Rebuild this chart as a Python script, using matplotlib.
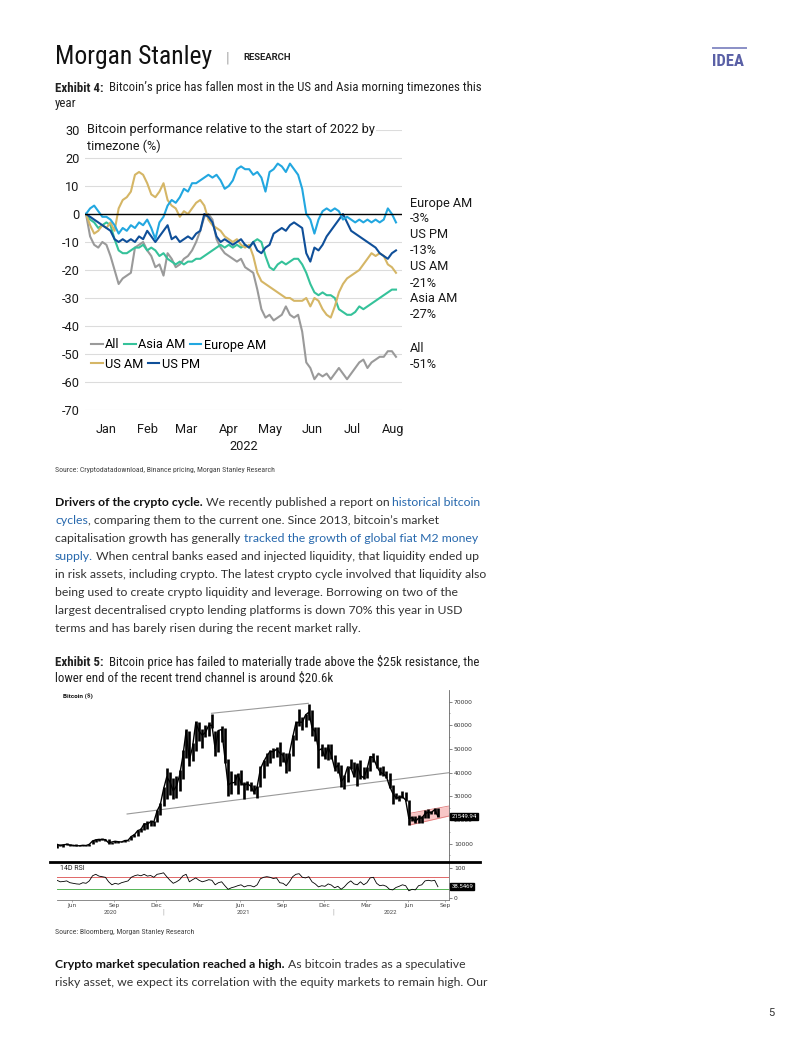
import matplotlib.pyplot as plt
import matplotlib.transforms as mtransforms
from matplotlib import font_manager
from matplotlib.lines import Line2D
import pandas as pd

W, H = 802, 1037
plt.rcParams['axes.unicode_minus'] = False

installed = {f.name for f in font_manager.fontManager.ttflist}
NARROW = next((n for n in ['Roboto Condensed', 'Liberation Sans Narrow', 'Archivo Narrow',
                           'PT Sans Narrow'] if n in installed), 'Roboto')
BODY = 'Lato'
CHART = 'Roboto'
CS = 9.2  # chart text size

# ---- Exhibit 4: performance by timezone (% vs start of 2022), every 3 days ----
tz_start = '2022-01-01'
tz_all = [0, -8, -11, -12, -10, -11, -15, -20, -25, -23,
          -22, -21, -12, -11, -10, -13, -15, -19, -18, -22,
          -14, -16, -19, -18, -16, -15, -13, -10, -6, -1,
          0, -2, -9, -12, -14, -15, -16, -17, -16, -19,
          -20, -21, -27, -34, -37, -36, -38, -37, -36, -33,
          -36, -37, -36, -42, -53, -55, -59, -57, -58, -57,
          -59, -57, -55, -57, -59, -57, -55, -53, -52, -55,
          -53, -52, -51, -51, -49, -49, -51]
tz_asia = [0, -2, -3, -5, -4, -3, -4, -9, -13, -14,
           -14, -13, -12, -12, -11, -13, -12, -13, -15, -14,
           -16, -17, -18, -17, -18, -17, -17, -16, -16, -15,
           -14, -13, -12, -11, -12, -11, -12, -11, -12, -11,
           -12, -10, -9, -10, -15, -19, -20, -18, -17, -18,
           -17, -16, -16, -18, -21, -25, -28, -29, -28, -29,
           -29, -30, -34, -35, -36, -36, -35, -33, -34, -33,
           -32, -31, -30, -29, -28, -27, -27]
tz_europe = [0, 2, 3, 1, -1, -1, -2, -4, -7, -5,
             -6, -4, -5, -3, -4, -2, -5, -9, -3, -1,
             3, 5, 4, 6, 9, 8, 11, 11, 12, 13,
             14, 13, 14, 12, 9, 10, 12, 16, 17, 16,
             16, 14, 15, 13, 8, 15, 16, 18, 17, 15,
             18, 16, 14, 9, 0, -2, -7, -2, 1, 2,
             1, 2, 1, -2, -1, -2, -3, -2, -3, -2,
             -3, -2, -3, -2, 2, 0, -3]
tz_usam = [0, -4, -7, -6, -4, -5, -3, -6, 2, 5,
           6, 8, 14, 15, 14, 11, 7, 6, 8, 11,
           5, 3, 2, -1, 1, 0, 2, 4, 5, 3,
           -2, -4, -5, -6, -8, -9, -10, -9, -11, -12,
           -11, -15, -21, -24, -25, -26, -27, -28, -29, -30,
           -30, -31, -31, -31, -30, -33, -30, -31, -34, -36,
           -37, -33, -28, -25, -23, -22, -21, -20, -18, -16,
           -14, -15, -14, -15, -18, -19, -21]
tz_uspm = [0, -1, -2, -3, -4, -5, -6, -9, -10, -9,
           -10, -9, -10, -8, -9, -6, -8, -10, -8, -6,
           -4, -9, -8, -10, -9, -8, -9, -7, -6, 0,
           -1, -3, -8, -10, -9, -10, -11, -10, -9, -11,
           -12, -10, -13, -14, -12, -11, -7, -6, -5, -6,
           -4, -3, -4, -5, -14, -17, -12, -13, -11, -8,
           -6, -4, -2, 0, -3, -6, -7, -8, -9, -10,
           -11, -12, -14, -15, -16, -14, -13]
tz_names = ['All', 'Asia AM', 'Europe AM', 'US AM', 'US PM']
tz_latest = ['-51%', '-27%', '-3%', '-21%', '-13%']
month_names = ['Jan', 'Feb', 'Mar', 'Apr', 'May', 'Jun', 'Jul', 'Aug']
month_mid = ['2022-01-16', '2022-02-15', '2022-03-16', '2022-04-16',
             '2022-05-16', '2022-06-16', '2022-07-16', '2022-08-15']

# ---- Exhibit 5: bitcoin weekly high / low / close (USD) and 14D RSI ----
btc_start = '2020-05-14'
btc_close = [9700, 9200, 9500, 9700, 9400, 9300, 9100, 9100, 9300, 9200,
             9700, 11100, 11600, 11800, 11700, 11700, 10300, 10700, 11000, 10800,
             10700, 11300, 11400, 13000, 13800, 15500, 16000, 18400, 18200, 19300,
             19200, 23800, 26500, 33000,
             38200, 36000, 32300, 34300, 39000, 47100, 57500, 45200, 51000, 61200,
             57500, 55800, 57000, 60000, 60000, 50000, 57800, 58200, 46400, 34700,
             35700, 35800, 39100, 35600, 34700, 35300, 34300, 31800, 34000, 41500,
             44600, 47000, 49000, 48800, 49900, 48300, 47300, 43200, 48200, 54900,
             60900, 61300, 61300, 64400, 65500, 59000, 57300, 49400, 50100, 46700,
             50800, 47300,
             41800, 43100, 36300, 37900, 42400, 42200, 38400, 43200, 38800, 37800,
             41300, 46800, 46400, 42800, 40400, 39500, 38500, 34300, 31300, 29400,
             29400, 29900, 28400, 20600, 21000, 19300, 20800, 20800, 22600, 23300,
             23200, 24400, 21550]
btc_high = [9900, 9800, 9700, 10400, 9950, 9600, 9800, 9300, 9450, 9350,
            9900, 11400, 12100, 12000, 12450, 11800, 12100, 10700, 11100, 11200,
            10950, 11500, 11700, 13200, 14000, 15900, 16500, 18800, 19400, 19900,
            19400, 24200, 27000, 34000,
            41900, 40100, 37900, 38500, 40900, 49700, 58300, 57500, 52600, 61800,
            61300, 58400, 60100, 61200, 64900, 57500, 57900, 59500, 59000, 45800,
            40800, 39500, 40000, 41300, 36000, 36600, 35900, 34600, 34500, 42600,
            45300, 48100, 49400, 50500, 51000, 52900, 48800, 48400, 48400, 56000,
            62000, 67000, 63700, 64600, 69000, 66300, 59300, 59100, 51900, 50700,
            51900, 52000,
            47500, 44400, 43400, 38900, 42500, 45800, 44700, 44200, 45400, 42500,
            42300, 46900, 48200, 47500, 42400, 42900, 40800, 40000, 34600, 31400,
            30600, 32300, 31700, 28400, 21800, 21500, 22300, 21600, 24200, 24600,
            23600, 24900, 25200]
btc_low = [8200, 8800, 8700, 9300, 9200, 9200, 8900, 8900, 9050, 9050,
           9150, 9700, 10600, 11100, 11500, 11100, 9900, 9900, 10200, 10200,
           10500, 10500, 11200, 11400, 12900, 13200, 14800, 15800, 16300, 17600,
           17600, 19000, 22200, 26000,
           29000, 30400, 28900, 29200, 32300, 37400, 46200, 43000, 44900, 49300,
           53500, 50400, 55000, 55500, 59000, 47000, 48800, 53000, 43900, 30000,
           31100, 34800, 31000, 34900, 28800, 32700, 32200, 31100, 29300, 34000,
           37600, 42800, 43900, 46300, 46500, 43000, 44700, 40000, 40800, 47100,
           53900, 59500, 58000, 59400, 62300, 55600, 53300, 42000, 46900, 45600,
           45500, 45700,
           40600, 39700, 34000, 32900, 36200, 41600, 38000, 34300, 37200, 37200,
           37600, 40500, 44300, 42100, 39200, 38600, 37600, 33700, 26700, 28700,
           28000, 29300, 28200, 17700, 19700, 18900, 18800, 18900, 20800, 20700,
           22400, 22700, 21400]
btc_rsi = [60, 55, 56, 58, 52, 50, 48, 47, 52, 50,
           58, 75, 80, 74, 72, 70, 55, 45, 50, 47,
           52, 55, 58, 70, 75, 78, 75, 80, 74, 76,
           70, 80, 82, 85,
           72, 60, 50, 55, 62, 75, 80, 55, 62, 68,
           60, 55, 58, 62, 60, 45, 52, 55, 42, 30,
           35, 38, 42, 45, 38, 42, 42, 38, 45, 65,
           70, 72, 70, 66, 68, 52, 50, 42, 55, 72,
           80, 82, 70, 68, 72, 55, 48, 38, 42, 40,
           48, 44,
           35, 40, 30, 38, 50, 58, 48, 45, 55, 45,
           52, 68, 70, 50, 42, 44, 40, 30, 28, 36,
           40, 45, 42, 25, 30, 28, 42, 45, 58, 60,
           58, 60, 38.5]
btc_last = 21549.94
rsi_last = 38.5469
support_x = ['2020-10-13', '2022-09-11']
support_y = [22520, 39970]
resist_x = ['2021-04-14', '2021-11-10']
resist_y = [65065, 69290]
channel_x = ['2022-06-18', '2022-09-11']
channel_low = [17870, 21675]
channel_high = [22815, 25900]
ex5_ticks = ['2020-06-15', '2020-09-15', '2020-12-15', '2021-03-15', '2021-06-15',
             '2021-09-15', '2021-12-15', '2022-03-15', '2022-06-15', '2022-09-03']
ex5_tick_labels = ['Jun', 'Sep', 'Dec', 'Mar', 'Jun', 'Sep', 'Dec', 'Mar', 'Jun', 'Sep']

fig = plt.figure(figsize=(W / 100, H / 100), dpi=100)
renderer = fig.canvas.get_renderer()


def fx(x):
    return x / W


def fy(y):
    return 1 - y / H


def put(x, y, s, **kw):
    kw.setdefault('va', 'center')
    return fig.text(fx(x), fy(y), s, parse_math=False, **kw)


def text_width(s, **kw):
    t = fig.text(0, 0, s, parse_math=False, **kw)
    w = t.get_window_extent(renderer).width
    t.remove()
    return w


def space_width(size, family):
    return (text_width('n n', fontsize=size, family=family)
            - text_width('nn', fontsize=size, family=family))


def runs_width(runs, size, family):
    gap = space_width(size, family)
    total = 0
    for s, weight, _ in runs:
        n = len(s) - len(s.lstrip(' '))
        total += gap * n + text_width(s.lstrip(' '), fontsize=size, family=family,
                                      fontweight=weight)
    return total


def fit(runs, width, family):
    """Font size at which the runs span the given pixel width."""
    return 10 * width / runs_width(runs, 10, family)


def rich_line(x, y, runs, size, family):
    """Draw runs of differently styled text one after the other on a line."""
    gap = space_width(size, family)
    for s, weight, color in runs:
        n = len(s) - len(s.lstrip(' '))
        x += gap * n
        t = put(x, y, s.lstrip(' '), fontsize=size, fontweight=weight,
                color=color, family=family)
        x += t.get_window_extent(renderer).width


DARK = '#222222'
TXT = '#333333'
LINK = '#2768ad'

# ---- page header ----
ms_size = fit([('Morgan Stanley', 'normal', '')], 157, NARROW)
put(55, 57, 'Morgan Stanley', fontsize=ms_size, family=NARROW, color='#111111')
put(228, 58, '|', fontsize=11, family=CHART, color='#aaaaaa', ha='center')
put(243, 58, 'RESEARCH', fontsize=6.8, family=CHART, fontweight='bold', color='#222222')
put(712, 61, 'IDEA', fontsize=12, family=NARROW, fontweight='bold', color='#5a60a6')
fig.add_artist(Line2D([fx(713), fx(746)], [fy(48), fy(48)], color='#8a8fc6', lw=1.4,
                      transform=fig.transFigure))

cap4 = [('Exhibit 4:', 'bold', DARK),
        ('  Bitcoin’s price has fallen most in the US and Asia morning timezones this',
         'normal', DARK)]
cap_size = fit(cap4, 423, NARROW)
rich_line(55, 88, cap4, cap_size, NARROW)
put(55, 103, 'year', fontsize=cap_size, family=NARROW, color=DARK)

# ---- Exhibit 4 chart ----
ax1 = fig.add_axes([fx(85), fy(410), (402 - 85) / W, (410 - 130) / H])
days = pd.date_range(tz_start, periods=len(tz_all), freq='3D')
colors = {'All': '#9a9a9a', 'Asia AM': '#35c29a', 'Europe AM': '#22a7e0',
          'US AM': '#d5b666', 'US PM': '#0f4f99'}
values = {'All': tz_all, 'Asia AM': tz_asia, 'Europe AM': tz_europe,
          'US AM': tz_usam, 'US PM': tz_uspm}
handles = {}
for name in ['All', 'Asia AM', 'US AM', 'US PM', 'Europe AM']:
    handles[name], = ax1.plot(days, values[name], color=colors[name], lw=1.5, label=name)
ax1.axhline(0, color='black', lw=1, zorder=5)
ax1.set_ylim(-70, 30)
ax1.set_yticks(range(-70, 31, 10))
ax1.set_xlim(pd.Timestamp('2021-12-31 06:00'), pd.Timestamp('2022-08-21 10:00'))
ax1.set_xticks(pd.to_datetime(month_mid))
ax1.set_xticklabels(month_names)
ax1.grid(axis='y', color='#dcdcdc', lw=0.8)
ax1.set_axisbelow(True)
for s in ax1.spines.values():
    s.set_visible(False)
ax1.tick_params(axis='y', length=0, labelsize=CS, labelcolor='#1a1a1a', pad=4)
ax1.tick_params(axis='x', length=0, labelsize=CS, labelcolor='#1a1a1a', pad=9)
for lab in ax1.get_xticklabels() + ax1.get_yticklabels():
    lab.set_family(CHART)

for y, s in [(130, 'Bitcoin performance relative to the start of 2022 by'),
             (146, 'timezone (%)')]:
    put(87, y, s, fontsize=CS, family=CHART, color='#1a1a1a',
        bbox=dict(fc='white', ec='none', pad=1))

legend_rows = [(345, ['All', 'Asia AM', 'Europe AM']), (364, ['US AM', 'US PM'])]
for y, names in legend_rows:
    fig.legend(handles=[handles[n] for n in names], loc='center left',
               bbox_to_anchor=(fx(91), fy(y)), ncol=len(names), frameon=False,
               prop={'family': CHART, 'size': CS}, handlelength=0.9,
               handletextpad=0.2, columnspacing=0.35, borderpad=0, borderaxespad=0)

label_rows = [('Europe AM', 203), ('US PM', 235), ('US AM', 267), ('Asia AM', 299), ('All', 348)]
for name, y in label_rows:
    put(410, y, name, fontsize=CS, family=CHART, color='#1a1a1a')
    put(410, y + 16, tz_latest[tz_names.index(name)], fontsize=CS, family=CHART,
        color='#1a1a1a')
put(244, 446, '2022', fontsize=CS, family=CHART, color='#1a1a1a', ha='center')

src1 = 'Source: Cryptodatadownload, Binance pricing, Morgan Stanley Research'
src_size = fit([(src1, 'normal', '')], 218, NARROW)
put(55, 470, src1, fontsize=src_size, family=NARROW, color='#444444')

# ---- body paragraph ----
para1 = [
    [('Drivers of the crypto cycle.', 'bold', '#111111'),
     (' We recently published a report on', 'normal', TXT), (' historical bitcoin', 'normal', LINK)],
    [('cycles', 'normal', LINK),
     (', comparing them to the current one. Since 2013, bitcoin’s market', 'normal', TXT)],
    [('capitalisation growth has generally', 'normal', TXT),
     (' tracked the growth of global fiat M2 money', 'normal', LINK)],
    [('supply.', 'normal', LINK),
     (' When central banks eased and injected liquidity, that liquidity ended up', 'normal', TXT)],
    [('in risk assets, including crypto. The latest crypto cycle involved that liquidity also',
      'normal', TXT)],
    [('being used to create crypto liquidity and leverage. Borrowing on two of the', 'normal', TXT)],
    [('largest decentralised crypto lending platforms is down 70% this year in USD', 'normal', TXT)],
    [('terms and has barely risen during the recent market rally.', 'normal', TXT)],
]
body_size = fit(para1[4], 431, BODY)
for i, runs in enumerate(para1):
    rich_line(55, 502 + 18.05 * i, runs, body_size, BODY)

cap5 = [('Exhibit 5:', 'bold', DARK),
        ('  Bitcoin price has failed to materially trade above the $25k resistance, the',
         'normal', DARK)]
rich_line(55, 662, cap5, cap_size, NARROW)
put(55, 678, 'lower end of the recent trend channel is around $20.6k', fontsize=cap_size,
    family=NARROW, color=DARK)

# ---- Exhibit 5 chart ----
weeks = pd.date_range(btc_start, periods=len(btc_close), freq='7D')
x_lo, x_hi = pd.Timestamp('2020-05-14'), pd.Timestamp('2022-09-11')

ax2 = fig.add_axes([fx(57), fy(862), (449 - 57) / W, (862 - 690) / H])
ax2.fill_between(pd.to_datetime(channel_x), channel_low, channel_high,
                 color='#f8c6c6', lw=0, zorder=1)
ax2.plot(pd.to_datetime(channel_x), channel_low, color='#e07a7a', lw=0.6, zorder=2)
ax2.plot(pd.to_datetime(channel_x), channel_high, color='#e07a7a', lw=0.6, zorder=2)
ax2.plot(pd.to_datetime(support_x), support_y, color='#9a9a9a', lw=0.8, zorder=2)
ax2.plot(pd.to_datetime(resist_x), resist_y, color='#9a9a9a', lw=0.8, zorder=2)
ax2.vlines(weeks, btc_low, btc_high, color='black', lw=1.9, zorder=3)
ax2.plot(weeks, btc_close, color='black', lw=1.0, zorder=3)
ax2.set_xlim(x_lo, x_hi)
ax2.set_ylim(2240, 74910)
ax2.set_xticks([])
ax2.yaxis.tick_right()
ax2.set_yticks(range(10000, 70001, 10000))
ax2.set_yticks(range(5000, 75000, 5000), minor=True)
ax2.tick_params(axis='y', which='major', labelsize=4.3, labelcolor='#333333', length=2,
                width=0.5, color='#555555', pad=1.5)
ax2.tick_params(axis='y', which='minor', length=1, width=0.4, color='#555555')
for s in ['top', 'left', 'bottom']:
    ax2.spines[s].set_visible(False)
ax2.spines['right'].set_color('#666666')
ax2.spines['right'].set_linewidth(0.6)
blend2 = mtransforms.blended_transform_factory(ax2.transAxes, ax2.transData)
ax2.text(1.006, btc_last, f'{btc_last:.2f}', transform=blend2, fontsize=4.3,
         family=CHART, color='white', va='center', ha='left',
         bbox=dict(boxstyle='square,pad=0.2', fc='black', ec='black'))
put(63, 697, 'Bitcoin ($)', fontsize=4.6, family=CHART, fontweight='bold', color='#111111')

ax3 = fig.add_axes([fx(57), fy(900), (449 - 57) / W, (900 - 863) / H])
ax3.axhline(70, color='#e06666', lw=0.7)
ax3.axhline(30, color='#55b455', lw=0.7)
ax3.plot(weeks, btc_rsi, color='black', lw=0.6)
ax3.set_xlim(x_lo, x_hi)
ax3.set_ylim(-5.7, 117.7)
ax3.yaxis.tick_right()
ax3.set_yticks([0, 50, 100])
ax3.set_yticklabels(['0', '', '100'])
ax3.set_xticks(pd.to_datetime(ex5_ticks))
ax3.set_xticklabels(ex5_tick_labels)
ax3.tick_params(axis='y', labelsize=4.3, labelcolor='#333333', length=2, width=0.5,
                color='#555555', pad=1.5)
ax3.tick_params(axis='x', labelsize=4.3, labelcolor='#444444', length=1.5, width=0.4,
                color='#777777', pad=1)
for s in ['top', 'left']:
    ax3.spines[s].set_visible(False)
for s in ['right', 'bottom']:
    ax3.spines[s].set_color('#777777')
    ax3.spines[s].set_linewidth(0.6)
blend3 = mtransforms.blended_transform_factory(ax3.transAxes, ax3.transData)
ax3.text(1.006, rsi_last, f'{rsi_last:.4f}', transform=blend3, fontsize=4.3,
         family=CHART, color='white', va='center', ha='left',
         bbox=dict(boxstyle='square,pad=0.2', fc='black', ec='black'))
put(60, 869, '14D RSI', fontsize=5, family=CHART, color='#222222')

fig.add_artist(Line2D([fx(50), fx(480)], [fy(862), fy(862)], color='black', lw=2,
                      transform=fig.transFigure))
for x, s in [(110, '2020'), (243, '2021'), (390, '2022')]:
    put(x, 912, s, fontsize=4.3, family=CHART, color='#444444', ha='center')
for x in [163.5, 333]:
    put(x, 912, '|', fontsize=5, family=CHART, color='#999999', ha='center')

src2 = 'Source: Bloomberg, Morgan Stanley Research'
put(55, 932, src2, fontsize=src_size, family=NARROW, color='#444444')

# ---- closing paragraph ----
para2 = [
    [('Crypto market speculation reached a high.', 'bold', '#111111'),
     (' As bitcoin trades as a speculative', 'normal', TXT)],
    [('risky asset, we expect its correlation with the equity markets to remain high. Our',
      'normal', TXT)],
]
for i, runs in enumerate(para2):
    rich_line(55, 965 + 18 * i, runs, body_size, BODY)

put(771, 1013, '5', fontsize=8, family=CHART, color='#333333', ha='center')

fig.savefig('out.png', dpi=100)
